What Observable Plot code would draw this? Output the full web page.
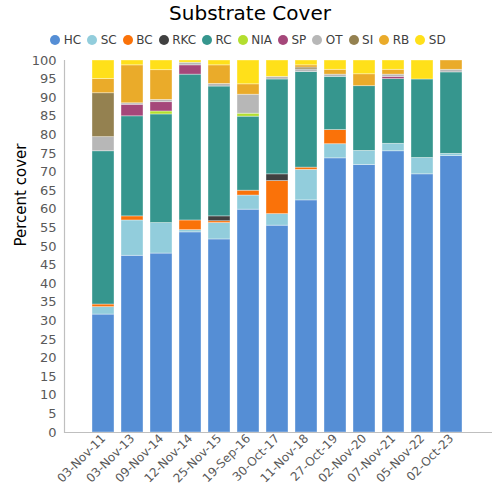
<!DOCTYPE html>
<html><head><meta charset="utf-8">
<script src="https://cdn.jsdelivr.net/npm/d3@7"></script>
<script src="https://cdn.jsdelivr.net/npm/@observablehq/plot@0.6"></script>
<style>
body{margin:0;background:#fff;font-family:"DejaVu Sans",sans-serif;}
#title{height:27px;line-height:26px;text-align:center;font-size:20px;color:#000;}
#legend{height:20px;padding-top:3px;display:flex;justify-content:center;align-items:center;font-size:12px;color:#404040;gap:6px;padding-right:4px;}
#legend span{display:flex;align-items:center;gap:3.5px;}
#legend i{display:inline-block;width:10px;height:10px;border-radius:50%;}
</style></head>
<body>
<div id="title">Substrate Cover</div>
<div id="legend"></div>
<div id="chart"></div>
<script>
const dates = ["03-Nov-11","03-Nov-13","09-Nov-14","12-Nov-14","25-Nov-15","19-Sep-16","30-Oct-17","11-Nov-18","27-Oct-19","02-Nov-20","07-Nov-21","05-Nov-22","02-Oct-23"];
const series = ["HC","SC","BC","RKC","RC","NIA","SP","OT","SI","RB","SD"];
const colors = ["#558ed5","#92cddc","#fa7209","#404040","#36968e","#b3de2f","#a5477a","#b7b7b7","#948150","#eaab2a","#ffe01a"];
const HC  = [31.7,47.5,48.1,53.8,51.9,59.9,55.6,62.4,73.7,71.9,75.6,69.4,74.3];
const SC  = [2.0,9.5,8.2,0.6,4.4,3.8,3.1,8.2,3.8,3.8,2.0,4.4,0.6];
const BC  = [0.7,1.1,0,2.6,0.5,1.3,8.9,0.6,3.8,0,0,0,0];
const RKC = [0,0,0,0,1.3,0,1.8,0,0,0,0,0,0];
const RC  = [41.2,26.9,29.2,39.2,34.9,19.9,25.5,25.7,14.3,17.4,17.4,21.1,21.9];
const NIA = [0,0,0.8,0,0,0.8,0,0,0,0,0,0,0];
const SP  = [0,3.1,2.5,2.5,0,0,0,0,0,0,0.6,0,0];
const OT  = [3.8,0.4,0.6,0.7,0.7,5.1,0.7,0.7,0.6,0,0.6,0,0.7];
const SI  = [11.8,0,0,0,0,0,0,0.5,0,0,0,0,0];
const RB  = [3.8,10.2,8.0,0,5.0,2.8,0,0.6,1.3,3.2,1.3,0,2.5];
const SD  = [5.0,1.3,2.6,0.6,1.3,6.4,4.4,1.3,2.5,3.7,2.5,5.1,0];
const yTicks = d3.range(0,101,5);

const cols = {HC,SC,BC,RKC,RC,NIA,SP,OT,SI,RB,SD};
const data = [];
series.forEach(s => dates.forEach((d,i) => { if (cols[s][i] > 0) data.push({date:d, type:s, value:cols[s][i]}); }));

const leg = document.getElementById("legend");
series.forEach((s,i)=>{ const sp=document.createElement("span"); sp.innerHTML=`<i style="background:${colors[i]}"></i>${s}`; leg.appendChild(sp); });

const chart = Plot.plot({
  width:500, height:450,
  marginTop:10, marginBottom:68, marginLeft:64, marginRight:8,
  style:{fontFamily:"DejaVu Sans, sans-serif", fontSize:"12px", color:"#595959", background:"#fff"},
  x:{domain:dates, range:[80,474], padding:0.24, label:null},
  y:{domain:[0,100], label:null},
  color:{domain:series, range:colors},
  marks:[
    Plot.barY(data, Plot.stackY({order:series, x:"date", y:"value", fill:"type", stroke:"white", strokeOpacity:0.45, strokeWidth:0.8})),
    Plot.frame({anchor:"left", stroke:"#bfbfbf", strokeWidth:1.2}),
    Plot.ruleY([0], {stroke:"#bfbfbf", strokeWidth:1.2}),
    Plot.axisY(yTicks, {tickSize:0, tickPadding:8, fontSize:13, fill:"#595959", label:null}),
    Plot.axisX({tickSize:0, tickRotate:-45, tickPadding:4, fontSize:12, fill:"#595959", label:null}),
    Plot.text(["Percent cover"], {frameAnchor:"left", dx:-43, rotate:-90, fontSize:15, fill:"#000"})
  ]
});
document.getElementById("chart").appendChild(chart);
</script>
</body></html>
